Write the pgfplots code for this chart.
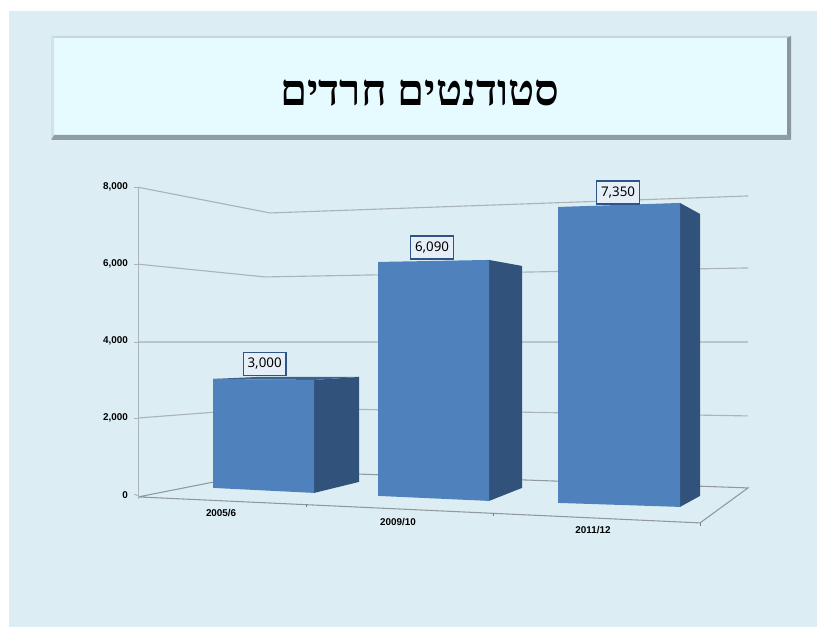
\documentclass[border=0pt]{standalone}
\usepackage{fontspec}
\usepackage{pgfplots}
\pgfplotsset{compat=1.18}
\setmainfont{Noto Sans}
\newfontfamily\hebfont[Script=Hebrew]{Liberation Serif}
\newfontfamily\tickfont{Liberation Sans}
\TeXXeTstate=1
\definecolor{bgc}{HTML}{DCEEF4}
\definecolor{titlec}{HTML}{E6FBFF}
\definecolor{frontc}{HTML}{4F81BD}
\definecolor{sidec}{HTML}{31527A}
\definecolor{topc}{HTML}{3B6291}
\definecolor{gridc}{HTML}{ABB4B7}
\definecolor{labfill}{HTML}{E6EEF8}
\definecolor{labdraw}{HTML}{2F5487}
\definecolor{bevA}{HTML}{C5D8DF}
\definecolor{bevB}{HTML}{CFE3E8}
\definecolor{bevC}{HTML}{8A989C}
\definecolor{bevD}{HTML}{8F9EA2}
\begin{document}
\begin{tikzpicture}
% page background and title panel, in reference pixels
\begin{scope}[x=0.75pt,y=-0.75pt,shift={(0,470.25pt)}]
\fill[white] (0,0) rectangle (817,627);
\fill[bgc] (9,11) rectangle (817,627);
\fill[titlec] (51,36) rectangle (791,140);
\fill[bevA] (51,36) -- (791,36) -- (788,38) -- (54,38) -- cycle;
\fill[bevB] (51,36) -- (54,38) -- (54,135) -- (51,140) -- cycle;
\fill[bevC] (791,36) -- (791,140) -- (787,135) -- (787,38) -- cycle;
\fill[bevD] (51,140) -- (791,140) -- (787,135) -- (54,135) -- cycle;
\node[text=black,font=\hebfont\bfseries\fontsize{32.6pt}{36pt}\selectfont] at (420,93) {\beginR סטודנטים חרדים\endR};
\end{scope}
\begin{axis}[
  at={(0,0)},anchor=south west,
  scale only axis,width=612.75pt,height=470.25pt,
  xmin=0,xmax=817,ymin=-3432,ymax=12870,
  hide x axis,
  axis y line*=left,
  axis line style={draw=none},
  major tick length=0pt,
  ytick={0,2000,4000,6000,8000},
  scaled y ticks=false,
  yticklabel style={font=\tickfont\bfseries\fontsize{7.4pt}{8pt}\selectfont,anchor=east,xshift=96pt,inner sep=0pt,text=black},
  /pgf/number format/assume math mode=true,
  /pgf/number format/fixed,
  /pgf/number format/1000 sep={,},
  clip=false,
]
% walls and gridlines
\addplot[gridc,line width=0.85pt] coordinates {(138,8000)(270,7332)(748,7774)};
\addplot[gridc,line width=0.85pt] coordinates {(138,6000)(265,5668)(748,5902)};
\addplot[gridc!70!bgc,line width=1.2pt] coordinates {(138,3970)(748,3970)};
\addplot[gridc,line width=0.85pt] coordinates {(138,2000)(270,2262)(748,2054)};
\addplot[gridc!85!black,line width=0.8pt] coordinates {(138,-52)(270,624)(748,182)(700,-728)(138,-52)};
\addplot[gridc,line width=0.85pt] coordinates {(138,8000)(138,-100)};
% left tick marks
\addplot[gridc,line width=0.7pt] coordinates {(134,8000)(138,8000)};
\addplot[gridc,line width=0.7pt] coordinates {(134,6000)(138,6000)};
\addplot[gridc,line width=0.7pt] coordinates {(134,3970)(138,3970)};
\addplot[gridc,line width=0.7pt] coordinates {(134,2000)(138,2000)};
\addplot[gridc,line width=0.7pt] coordinates {(134,20)(138,-20)};
% floor tick marks
\addplot[gridc!70!black,line width=0.6pt] coordinates {(306,-234)(306,-312)};
\addplot[gridc!70!black,line width=0.6pt] coordinates {(493,-468)(493,-546)};
\addplot[gridc!70!black,line width=0.6pt] coordinates {(700,-728)(700,-806)};
% bar 2005/6 : 3,000
\addplot[fill=sidec,draw=none] coordinates {(314,2990)(359,3068)(359,338)(314,52)} -- cycle;
\addplot[fill=topc,draw=none] coordinates {(213,3016)(314,2990)(359,3068)(258,3068)} -- cycle;
\addplot[fill=frontc,draw=none] coordinates {(213,3016)(314,2990)(314,52)(213,182)} -- cycle;
% bar 2009/10 : 6,090
\addplot[fill=sidec,draw=none] coordinates {(489,6110)(522,5954)(522,182)(489,-156)} -- cycle;
\addplot[fill=frontc,draw=none] coordinates {(378,6058)(489,6110)(489,-156)(378,-26)} -- cycle;
% bar 2011/12 : 7,350
\addplot[fill=sidec,draw=none] coordinates {(680,7592)(700,7306)(700,-26)(680,-312)} -- cycle;
\addplot[fill=frontc,draw=none] coordinates {(558,7488)(680,7592)(680,-312)(558,-208)} -- cycle;
% data labels
\tikzset{lab/.style={fill=labfill,draw=labdraw,line width=1.1pt,inner sep=0pt,minimum width=32pt,minimum height=17pt,font=\fontsize{10pt}{11pt}\selectfont,text=black}}
\node[lab] at (axis cs:264.5,3406) {3,000};
\node[lab] at (axis cs:432,6435) {6,090};
\node[lab] at (axis cs:618,7865) {7,350};
% category labels
\tikzset{cat/.style={font=\tickfont\bfseries\fontsize{7.4pt}{8pt}\selectfont,inner sep=0pt,text=black}}
\node[cat] at (axis cs:221,-468) {2005/6};
\node[cat] at (axis cs:398,-702) {2009/10};
\node[cat] at (axis cs:593,-910) {2011/12};
\end{axis}
\end{tikzpicture}
\end{document}
